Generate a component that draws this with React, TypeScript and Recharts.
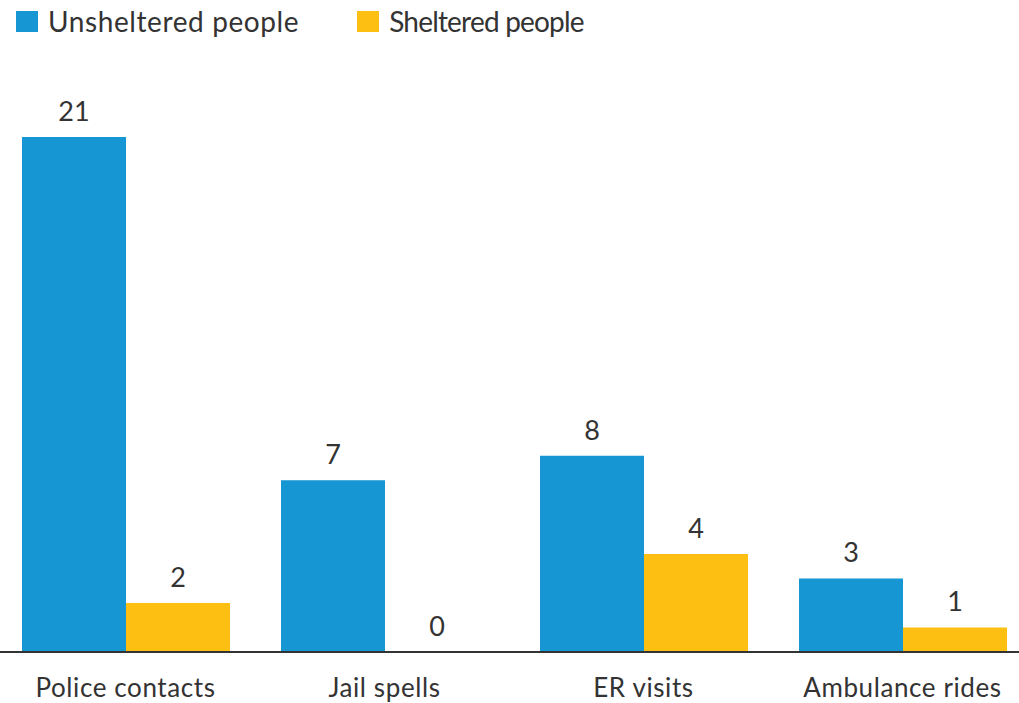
import React from 'react';
import { BarChart, Bar, XAxis, YAxis, Legend, LabelList } from 'recharts';

const categories = ['Police contacts', 'Jail spells', 'ER visits', 'Ambulance rides'];
const unsheltered = [21, 7, 8, 3];
const sheltered = [2, 0, 4, 1];

const BLUE = '#1696d2';
const YELLOW = '#fdbf11';
const TEXT = '#333';
const FONT = 'Lato, "Open Sans", sans-serif';

const data = categories.map((name, i) => ({
  name,
  unsheltered: unsheltered[i],
  sheltered: sheltered[i],
}));

const legendItems = [
  { label: 'Unsheltered people', color: BLUE, spacing: 0.6 },
  { label: 'Sheltered people', color: YELLOW, spacing: -0.8 },
];

const renderLegend = () => (
  <div style={{ display: 'flex', alignItems: 'center', height: 34, lineHeight: '34px', fontFamily: FONT, fontSize: 28, color: TEXT }}>
    {legendItems.map((it) => (
      <div key={it.label} style={{ display: 'flex', alignItems: 'center', marginRight: 58 }}>
        <span style={{ display: 'inline-block', width: 22, height: 21, background: it.color, marginRight: 10 }} />
        <span style={{ letterSpacing: it.spacing }}>{it.label}</span>
      </div>
    ))}
  </div>
);

// draws the value above each bar, also for zero-height bars
const valueLabel = (props: any) => {
  const { x, y, width, value } = props;
  return (
    <text x={Number(x) + Number(width) / 2} y={Number(y) - 16} textAnchor="middle"
      fontFamily={FONT} fontSize={27} fill={TEXT}>
      {value}
    </text>
  );
};

const App: React.FC = () => {
  return (
    <div style={{ position: 'absolute', top: 0, left: 0, width: 1019, height: 703, overflow: 'hidden' }}>
      <BarChart
        width={1036}
        height={703}
        data={data}
        margin={{ top: 103, right: 0, bottom: 1, left: 0 }}
        barGap={0}
        style={{ marginLeft: -4 }}
      >
        <Legend
          verticalAlign="top"
          align="left"
          content={renderLegend}
          wrapperStyle={{ top: 4, left: 20 }}
        />
        <XAxis
          dataKey="name"
          height={50}
          tickLine={false}
          axisLine={{ stroke: '#333', strokeWidth: 2 }}
          tick={{ fontFamily: FONT, fontSize: 26, fill: TEXT, letterSpacing: 0.6 }}
          dy={19}
        />
        <YAxis hide domain={[0, 21]} />
        <Bar dataKey="unsheltered" fill={BLUE} barSize={104} minPointSize={0.01} isAnimationActive={false}>
          <LabelList dataKey="unsheltered" content={valueLabel} />
        </Bar>
        <Bar dataKey="sheltered" fill={YELLOW} barSize={104} minPointSize={0.01} isAnimationActive={false}>
          <LabelList dataKey="sheltered" content={valueLabel} />
        </Bar>
      </BarChart>
    </div>
  );
};

export default App;
